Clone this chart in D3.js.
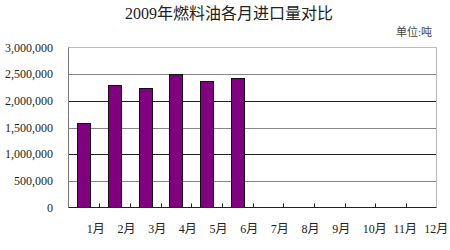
<!DOCTYPE html>
<html>
<head>
<meta charset="utf-8">
<script src="https://cdn.jsdelivr.net/npm/d3@7"></script>
<style>
body { margin: 0; background: #fff; }
text { font-family: "Liberation Serif", "Noto Sans CJK SC", serif; fill: #222; }
</style>
</head>
<body>
<svg id="chart" width="450" height="250"></svg>
<script>
// data
var months = ["1月","2月","3月","4月","5月","6月","7月","8月","9月","10月","11月","12月"]
var imports = [1588000, 2300000, 2237000, 2500000, 2368000, 2432000]
var yTicks = [0, 500000, 1000000, 1500000, 2000000, 2500000, 3000000]

var svg = d3.select("#chart")
// note: "top" is a reserved window prop, so plot edges get their own names
var plotL = 68.5, plotR = 436.5, plotT = 47.5, plotB = 207.5

var x = d3.scaleBand().domain(months).range([plotL, plotR]).paddingInner(0.57).paddingOuter(0.285)
var xb = d3.scaleBand().domain(months).range([plotL, plotR])
var y = d3.scaleLinear().domain([0, 3000000]).range([plotB, plotT])

// title
svg.append("text").attr("x", 229).attr("y", 19).attr("text-anchor", "middle")
  .style("font-size", "16px").text("2009年燃料油各月进口量对比")
svg.append("text").attr("x", 432).attr("y", 36).attr("text-anchor", "end")
  .style("font-size", "11px").style("fill", "#444").text("单位:吨")

// gridlines
svg.append("g").selectAll("line").data(yTicks.slice(1, 6)).enter().append("line")
  .attr("x1", plotL).attr("x2", plotR)
  .attr("y1", d => Math.round(y(d)) + 0.5).attr("y2", d => Math.round(y(d)) + 0.5)
  .attr("stroke", (d, i) => i % 2 == 0 ? "#888" : "#222")

// frame
svg.append("line").attr("x1", plotL).attr("x2", plotR).attr("y1", plotT).attr("y2", plotT).attr("stroke", "#bbb")
svg.append("line").attr("x1", plotR).attr("x2", plotR).attr("y1", plotT).attr("y2", plotB).attr("stroke", "#bbb")
svg.append("line").attr("x1", plotL).attr("x2", plotL).attr("y1", plotT).attr("y2", plotB).attr("stroke", "#777")

// bars
svg.append("g").selectAll("rect").data(imports).enter().append("rect")
  .attr("x", (d, i) => Math.round(x(months[i])) + 0.5)
  .attr("width", Math.round(x.bandwidth()))
  .attr("y", d => Math.round(y(d)) + 0.5)
  .attr("height", d => plotB - Math.round(y(d)) - 0.5)
  .attr("fill", "#800080").attr("stroke", "#111")

// x axis baseline + inner ticks
svg.append("line").attr("x1", plotL).attr("x2", plotR).attr("y1", plotB).attr("y2", plotB).attr("stroke", "#222")
svg.append("g").selectAll("line").data(months.slice(1)).enter().append("line")
  .attr("x1", d => Math.round(xb(d)) + 0.5).attr("x2", d => Math.round(xb(d)) + 0.5)
  .attr("y1", plotB).attr("y2", plotB - 4).attr("stroke", "#222")

// x labels
svg.append("g").selectAll("text").data(months).enter().append("text")
  .attr("x", d => xb(d) + xb.bandwidth() / 2 + 3).attr("y", 233)
  .style("font-size", "12px").text(d => d)

// y labels
var fmt = d3.format(",")
svg.append("g").selectAll("text").data(yTicks).enter().append("text")
  .attr("x", 53).attr("y", d => y(d) + 4).attr("text-anchor", "end")
  .style("font-size", "12px").text(d => fmt(d))
</script>
</body>
</html>
